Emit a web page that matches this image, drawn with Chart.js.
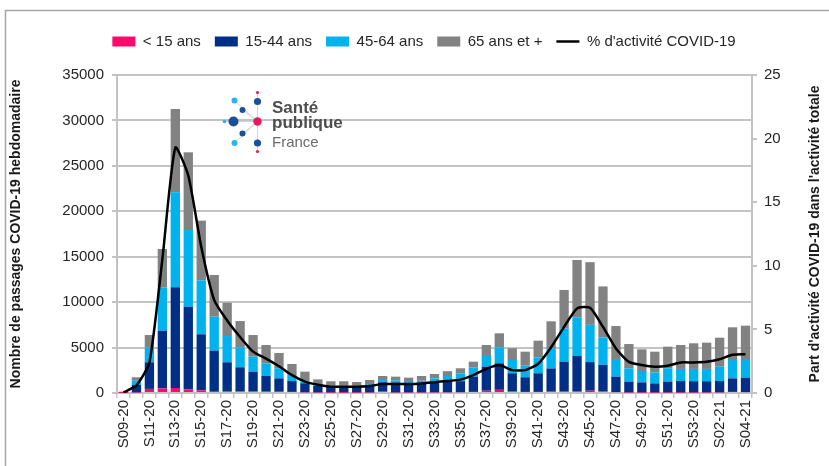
<!DOCTYPE html>
<html>
<head>
<meta charset="utf-8">
<script src="https://cdn.jsdelivr.net/npm/chart.js@4.4.0/dist/chart.umd.min.js"></script>
<style>
html, body { margin: 0; padding: 0; background: #fff; }
#wrap { width: 829px; height: 466px; }
</style>
</head>
<body>
<div id="wrap"><canvas id="chart_passages" width="829" height="466"></canvas></div>
<script>
// semaines (S09-20 -> S04-21)
const semaines = ['S09-20','S10-20','S11-20','S12-20','S13-20','S14-20','S15-20','S16-20','S17-20','S18-20',
    'S19-20','S20-20','S21-20','S22-20','S23-20','S24-20','S25-20','S26-20','S27-20','S28-20',
    'S29-20','S30-20','S31-20','S32-20','S33-20','S34-20','S35-20','S36-20','S37-20','S38-20',
    'S39-20','S40-20','S41-20','S42-20','S43-20','S44-20','S45-20','S46-20','S47-20','S48-20',
    'S49-20','S50-20','S51-20','S52-20','S53-20','S01-21','S02-21','S03-21','S04-21'];

// passages hebdomadaires par classe d'age
const moins15 = [5, 60, 450, 500, 550, 400, 300, 220, 200, 170,
    160, 150, 140, 120, 80, 60, 50, 50, 50, 60,
    150, 60, 60, 60, 70, 80, 90, 120, 250, 350,
    200, 120, 120, 150, 150, 200, 250, 200, 100, 60,
    50, 50, 50, 50, 50, 60, 70, 120, 100];
const de15a44 = [60, 820, 2930, 6360, 11080, 9100, 6160, 4440, 3180, 2660,
    2190, 1720, 1470, 1200, 990, 710, 650, 630, 630, 820,
    1030, 1090, 1040, 1040, 1130, 1170, 1210, 1680, 2650, 2920,
    1970, 1610, 2050, 2550, 3300, 3870, 3150, 2900, 1700, 1190,
    1120, 1010, 1200, 1270, 1250, 1240, 1250, 1490, 1590];
const de45a64 = [40, 470, 1650, 4770, 10460, 8440, 5940, 3740, 2890, 2200,
    1650, 1400, 1110, 660, 180, 110, 130, 120, 110, 220,
    250, 250, 220, 250, 410, 620, 870, 990, 1280, 1760,
    1460, 1280, 1760, 2220, 3670, 4260, 4100, 3020, 1940, 1470,
    1250, 1210, 1470, 1330, 1350, 1350, 1580, 2020, 2050];
const plus65 = [45, 380, 1350, 4220, 9170, 8550, 6570, 4590, 3670, 2890,
    2380, 2010, 1680, 1210, 1100, 620, 460, 490, 420, 330,
    440, 400, 370, 520, 480, 530, 550, 660, 1100, 1540,
    1290, 1540, 1830, 2970, 4220, 6310, 6900, 5610, 3630, 2670,
    2390, 2280, 2380, 2630, 2820, 2890, 3190, 3600, 3670];

// % d'activite COVID-19
const activite = [0.05, 0.6, 2.4, 10.5, 19.3, 17.1, 11.5, 7.3, 5.7, 4.4,
    3.25, 2.7, 2.1, 1.4, 0.9, 0.65, 0.5, 0.5, 0.5, 0.55,
    0.7, 0.7, 0.7, 0.75, 0.85, 0.95, 1.05, 1.4, 1.9, 2.2,
    1.8, 1.8, 2.3, 3.6, 5.2, 6.65, 6.7, 5.2, 3.5, 2.45,
    2.2, 2.07, 2.15, 2.4, 2.4, 2.45, 2.65, 3.0, 3.05];

const police = "'Liberation Sans', Arial, sans-serif";
Chart.defaults.font.family = police;
Chart.defaults.font.size = 15;
Chart.defaults.color = '#262626';

// cadre + fond
const fond = {
    id: 'fond',
    beforeDraw(chart) {
        const ctx = chart.ctx;
        ctx.save();
        ctx.fillStyle = '#fff';
        ctx.fillRect(0, 0, chart.width, chart.height);
        ctx.strokeStyle = '#a6a6a6';
        ctx.lineWidth = 1.5;
        ctx.strokeRect(5.5, 10.5, chart.width + 10, chart.height + 10);
        ctx.restore();
    }
};

// place sous la legende
const espaceLegende = {
    id: 'espaceLegende',
    beforeInit(chart) {
        const fitValue = chart.legend.fit;
        chart.legend.fit = function fit() {
            fitValue.bind(chart.legend)();
            this.height += 16;
        };
    }
};

// titres des axes + logo
const titresLogo = {
    id: 'titresLogo',
    afterDraw(chart) {
        const ctx = chart.ctx;
        const area = chart.chartArea;
        const milieu = (area.top + area.bottom) / 2;
        ctx.save();
        ctx.fillStyle = '#1a1a1a';
        ctx.font = 'bold 14px ' + police;
        ctx.textAlign = 'center';
        ctx.textBaseline = 'middle';
        ctx.translate(16, milieu);
        ctx.rotate(-Math.PI / 2);
        ctx.fillText('Nombre de passages COVID-19 hebdomadaire', 0, 0);
        ctx.restore();

        ctx.save();
        ctx.fillStyle = '#1a1a1a';
        ctx.font = 'bold 14px ' + police;
        ctx.textAlign = 'center';
        ctx.textBaseline = 'middle';
        ctx.translate(815, milieu);
        ctx.rotate(-Math.PI / 2);
        ctx.fillText("Part d'activité COVID-19 dans l'activité totale", 0, 0);
        ctx.restore();

        // logo Santé publique France
        const cx = 257.5, cy = 121.5;
        const points = [
            [257.5, 92.5, 1.6, '#e6195f'],
            [257.5, 101.5, 3.6, '#1a4f9c'],
            [234.5, 100.5, 3, '#29b5e8'],
            [242.5, 110, 3, '#1a4f9c'],
            [224.5, 121.5, 1.8, '#29b5e8'],
            [233.5, 121.5, 5, '#1a4f9c'],
            [242.5, 133.5, 3, '#1a4f9c'],
            [234.5, 143, 3, '#29b5e8'],
            [257.5, 143, 3.6, '#1a4f9c'],
            [257.5, 151.5, 1.6, '#e6195f']
        ];
        ctx.save();
        ctx.strokeStyle = '#d0d4dc';
        ctx.lineWidth = 1;
        points.forEach(p => {
            ctx.beginPath();
            ctx.moveTo(cx, cy);
            ctx.lineTo(p[0], p[1]);
            ctx.stroke();
        });
        points.forEach(p => {
            ctx.beginPath();
            ctx.arc(p[0], p[1], p[2], 0, Math.PI * 2);
            ctx.fillStyle = p[3];
            ctx.fill();
        });
        ctx.beginPath();
        ctx.arc(cx, cy, 4.2, 0, Math.PI * 2);
        ctx.fillStyle = '#e6195f';
        ctx.fill();

        ctx.textAlign = 'left';
        ctx.textBaseline = 'alphabetic';
        ctx.fillStyle = '#4d4d4d';
        ctx.font = 'bold 17px ' + police;
        ctx.fillText('Santé', 272, 113);
        ctx.fillText('publique', 272, 128);
        ctx.fillStyle = '#6b6b6b';
        ctx.font = '15px ' + police;
        ctx.fillText('France', 272, 147);
        ctx.restore();
    }
};

const grille = '#c3c3c3';

new Chart(document.getElementById('chart_passages').getContext('2d'), {
    type: 'bar',
    data: {
        labels: semaines,
        datasets: [{
            label: '< 15 ans',
            data: moins15,
            backgroundColor: '#ff0a6c',
            order: 2
        }, {
            label: '15-44 ans',
            data: de15a44,
            backgroundColor: '#002f87',
            order: 2
        }, {
            label: '45-64 ans',
            data: de45a64,
            backgroundColor: '#00b2ee',
            order: 2
        }, {
            label: '65 ans et +',
            data: plus65,
            backgroundColor: '#828282',
            order: 2
        }, {
            type: 'line',
            label: "% d'activité COVID-19",
            data: activite,
            yAxisID: 'y1',
            borderColor: '#000',
            backgroundColor: '#000',
            borderWidth: 2.5,
            pointRadius: 0,
            tension: 0.2,
            order: 1
        }]
    },
    options: {
        responsive: false,
        animation: false,
        barPercentage: 0.72,
        categoryPercentage: 1,
        layout: {
            padding: { top: 20, left: 24, right: 5, bottom: 0 }
        },
        plugins: {
            tooltip: { enabled: false },
            legend: {
                position: 'top',
                labels: {
                    usePointStyle: true,
                    pointStyleWidth: 23,
                    boxHeight: 10,
                    padding: 14,
                    color: '#262626',
                    sort: (a, b) => a.datasetIndex - b.datasetIndex,
                    generateLabels(chart) {
                        const items = Chart.defaults.plugins.legend.labels.generateLabels(chart);
                        items.forEach(it => {
                            const ds = chart.data.datasets[it.datasetIndex];
                            if (ds.type === 'line') {
                                it.pointStyle = 'line';
                                it.strokeStyle = '#000';
                                it.lineWidth = 2.5;
                            } else {
                                it.pointStyle = 'rect';
                                it.lineWidth = 0;
                            }
                        });
                        return items;
                    }
                }
            }
        },
        scales: {
            x: {
                stacked: true,
                offset: true,
                afterFit: scale => { scale.height = 73; },
                grid: {
                    offset: true,
                    drawOnChartArea: false,
                    tickLength: 5,
                    color: grille,
                    lineWidth: 1.5
                },
                border: { color: grille, width: 2 },
                ticks: {
                    autoSkip: false,
                    minRotation: 90,
                    maxRotation: 90,
                    padding: 2,
                    callback: function (val, idx) {
                        return idx % 2 === 0 ? this.getLabelForValue(val) : '';
                    }
                }
            },
            y: {
                stacked: true,
                min: 0,
                max: 35000,
                afterFit: scale => { scale.width = 93; },
                grid: { color: grille, lineWidth: 2, tickLength: 5 },
                border: { color: grille, width: 2 },
                ticks: { stepSize: 5000, padding: 8, callback: v => String(v) }
            },
            y1: {
                position: 'right',
                min: 0,
                max: 25,
                afterFit: scale => { scale.width = 72; },
                grid: { drawOnChartArea: false, color: grille, lineWidth: 2, tickLength: 5 },
                border: { color: grille, width: 2 },
                ticks: { stepSize: 5, padding: 7 }
            }
        }
    },
    plugins: [fond, espaceLegende, titresLogo]
});
</script>
</body>
</html>
